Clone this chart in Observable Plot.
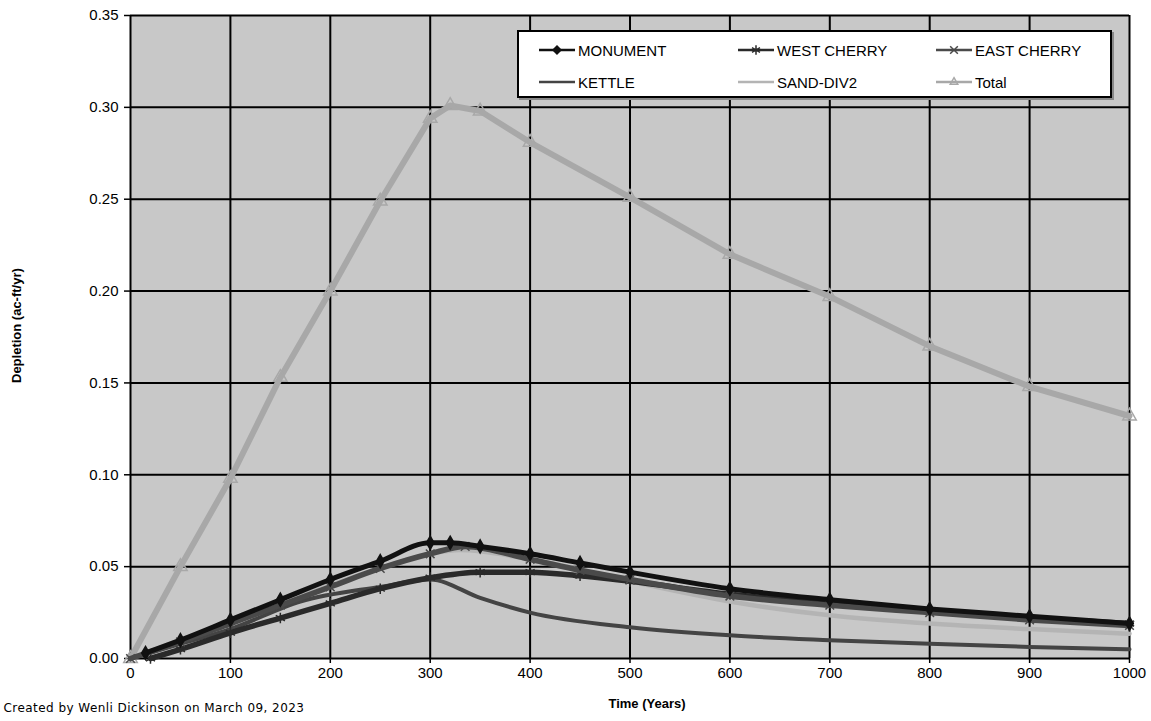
<!DOCTYPE html>
<html>
<head>
<meta charset="utf-8">
<script src="https://cdn.jsdelivr.net/npm/d3@7"></script>
<script src="https://cdn.jsdelivr.net/npm/@observablehq/plot@0.6"></script>
<style>
  body { margin: 0; background: #fff; }
  #wrap { position: relative; width: 1151px; height: 721px; }
  #legend { position: absolute; left: 517px; top: 30px; width: 591px; height: 64px;
    background: #fff; border: 2px solid #000; box-shadow: 2px 2px 0 #888;
    font-family: "Liberation Sans", Arial, sans-serif; font-size: 15px; color: #000; }
  .item { position: absolute; display: flex; align-items: center; height: 18px; }
  .item svg { margin-right: 3px; }
</style>
</head>
<body>
<div id="wrap"><div id="legend"></div></div>
<script>
// ---- data ----
const seriesNames = ["MONUMENT", "WEST CHERRY", "EAST CHERRY", "KETTLE", "SAND-DIV2", "Total"];

const tMonument = [15, 50, 100, 150, 200, 250, 300, 320, 350, 400, 450, 500, 600, 700, 800, 900, 1000];
const vMonument = [0.003, 0.010, 0.021, 0.032, 0.043, 0.053, 0.063, 0.063, 0.061, 0.057, 0.052, 0.047, 0.038, 0.032, 0.027, 0.023, 0.019];

const tWestCherry = [20, 50, 100, 150, 200, 250, 300, 350, 400, 450, 500, 600, 700, 800, 900, 1000];
const vWestCherry = [0.000, 0.005, 0.014, 0.022, 0.030, 0.038, 0.044, 0.047, 0.047, 0.045, 0.042, 0.035, 0.030, 0.026, 0.022, 0.019];

const tEastCherry = [0, 50, 100, 150, 200, 250, 300, 335, 400, 450, 500, 600, 700, 800, 900, 1000];
const vEastCherry = [0.000, 0.009, 0.019, 0.029, 0.039, 0.049, 0.057, 0.061, 0.054, 0.048, 0.043, 0.034, 0.029, 0.025, 0.021, 0.018];

const tKettle = [0, 50, 100, 170, 250, 300, 350, 400, 500, 600, 700, 800, 900, 1000];
const vKettle = [0.000, 0.008, 0.016, 0.031, 0.039, 0.043, 0.033, 0.025, 0.017, 0.0126, 0.010, 0.008, 0.0063, 0.005];

const tSandDiv2 = [0, 50, 100, 150, 200, 250, 300, 330, 400, 500, 600, 700, 800, 900, 1000];
const vSandDiv2 = [0.000, 0.010, 0.020, 0.030, 0.040, 0.049, 0.057, 0.059, 0.054, 0.042, 0.031, 0.0235, 0.019, 0.016, 0.0135];

const tTotal = [0, 50, 100, 150, 200, 250, 300, 320, 350, 400, 500, 600, 700, 800, 900, 1000];
const vTotal = [0.000, 0.050, 0.098, 0.153, 0.200, 0.249, 0.294, 0.301, 0.298, 0.281, 0.251, 0.220, 0.197, 0.170, 0.148, 0.132];

const xTicks = [0, 100, 200, 300, 400, 500, 600, 700, 800, 900, 1000];
const yTicks = [0, 0.05, 0.10, 0.15, 0.20, 0.25, 0.30, 0.35];

// ---- build table ----
function rows(name, ts, vs) { return ts.map((t, i) => ({ series: name, t, v: vs[i] })); }
const data = [
  ...rows("SAND-DIV2", tSandDiv2, vSandDiv2),
  ...rows("Total", tTotal, vTotal),
  ...rows("KETTLE", tKettle, vKettle),
  ...rows("WEST CHERRY", tWestCherry, vWestCherry),
  ...rows("EAST CHERRY", tEastCherry, vEastCherry),
  ...rows("MONUMENT", tMonument, vMonument)
];
const style = {
  "MONUMENT":    { stroke: "#111", width: 5, symbol: "diamond", fill: "#111", r: 4, curve: "monotone-x" },
  "WEST CHERRY": { stroke: "#2a2a2a", width: 5.5, symbol: "asterisk", fill: "none", r: 5, curve: "monotone-x" },
  "EAST CHERRY": { stroke: "#4a4a4a", width: 5.5, symbol: "times", fill: "none", r: 4, curve: "monotone-x" },
  "KETTLE":      { stroke: "#444", width: 4, symbol: null, curve: "monotone-x" },
  "SAND-DIV2":   { stroke: "#b4b4b4", width: 4.5, symbol: null, curve: "monotone-x" },
  "Total":       { stroke: "#a8a8a8", width: 6, symbol: "triangle", fill: "none", r: 5, curve: "linear" }
};
const drawOrder = ["SAND-DIV2", "Total", "KETTLE", "WEST CHERRY", "EAST CHERRY", "MONUMENT"];

const marks = [
  Plot.frame({ fill: "#c8c8c8", stroke: null }),
  Plot.gridX(xTicks, { stroke: "#000", strokeOpacity: 1, strokeWidth: 2 }),
  Plot.gridY(yTicks, { stroke: "#000", strokeOpacity: 1, strokeWidth: 2 }),
  Plot.axisY(yTicks, { tickFormat: d3.format(".2f"), tickSize: 6, tickPadding: 6, label: null, fontSize: 15, strokeWidth: 1.5 }),
  Plot.axisX(xTicks, { tickFormat: d3.format("d"), tickSize: 5, tickPadding: 4, label: null, fontSize: 15, strokeWidth: 1.5 })
];
for (const name of drawOrder) {
  const s = style[name];
  const d = data.filter(r => r.series === name);
  marks.push(Plot.line(d, { x: "t", y: "v", stroke: s.stroke, strokeWidth: s.width, curve: s.curve }));
  if (s.symbol) {
    marks.push(Plot.dot(d, { x: "t", y: "v", symbol: s.symbol, r: s.r, stroke: s.stroke, fill: s.fill, strokeWidth: 1.5 }));
  }
}
marks.push(
  Plot.text(["Depletion (ac-ft/yr)"], { frameAnchor: "left", dx: -114, dy: 46, rotate: -90, fontWeight: "bold", fontSize: 13 }),
  Plot.text(["Time (Years)"], { frameAnchor: "bottom", dx: 17, dy: 49, fontWeight: "bold", fontSize: 13 }),
  Plot.text(["Created by Wenli Dickinson on March 09, 2023"], { frameAnchor: "bottom-left", textAnchor: "start", dx: -127, dy: 53, fontSize: 12, fontFamily: "DejaVu Sans, sans-serif", className: "caption" })
);

const chart = Plot.plot({
  width: 1151, height: 721,
  marginLeft: 130, marginRight: 22, marginTop: 15, marginBottom: 63,
  x: { domain: [0, 1000] },
  y: { domain: [0, 0.35] },
  style: { fontFamily: "Liberation Sans, Arial, sans-serif", fontSize: "15px", color: "#000", background: "#fff" },
  marks
});
chart.querySelectorAll("text").forEach(t => {
  if (t.textContent.startsWith("Created")) t.style.letterSpacing = "0.45px";
});
document.getElementById("wrap").prepend(chart);

// ---- legend ----
const legendPos = [
  ["MONUMENT", 20, 9], ["WEST CHERRY", 219, 9], ["EAST CHERRY", 417, 9],
  ["KETTLE", 20, 41], ["SAND-DIV2", 219, 41], ["Total", 417, 41]
];
const lg = document.getElementById("legend");
const symPath = {
  diamond: d3.symbol(d3.symbolDiamond2, 40)(), asterisk: d3.symbol(d3.symbolAsterisk, 60)(),
  times: d3.symbol(d3.symbolTimes, 40)(), triangle: d3.symbol(d3.symbolTriangle2, 40)()
};
for (const [name, left, top] of legendPos) {
  const s = style[name];
  const div = document.createElement("div");
  div.className = "item";
  div.style.left = left + "px"; div.style.top = top + "px";
  let sym = "";
  if (s.symbol) sym = `<path transform="translate(18,9)" d="${symPath[s.symbol]}" fill="${s.fill === 'none' ? 'none' : s.fill}" stroke="${s.stroke}" stroke-width="1.5"/>`;
  div.innerHTML = `<svg width="36" height="18"><line x1="0" x2="36" y1="9" y2="9" stroke="${s.stroke}" stroke-width="2.5"/>${sym}</svg><span>${name}</span>`;
  lg.appendChild(div);
}
</script>
</body>
</html>
